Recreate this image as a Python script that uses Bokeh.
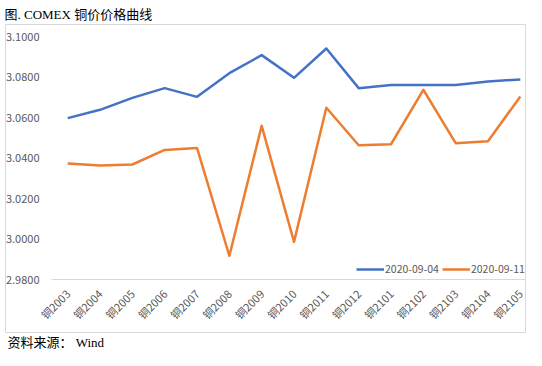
from bokeh.plotting import figure
from bokeh.models import Range1d, Legend, Title, ColumnDataSource
from bokeh.core.properties import value
from bokeh.embed import file_html
from bokeh.resources import INLINE
import math

categories = ["铜2003", "铜2004", "铜2005", "铜2006", "铜2007", "铜2008", "铜2009", "铜2010",
              "铜2011", "铜2012", "铜2101", "铜2102", "铜2103", "铜2104", "铜2105"]
series_0904 = [3.0597, 3.0638, 3.0697, 3.0745, 3.0702, 3.0819, 3.0908, 3.0796,
               3.0941, 3.0745, 3.0760, 3.0760, 3.0760, 3.0778, 3.0788]
series_0911 = [3.0373, 3.0363, 3.0368, 3.0440, 3.0450, 2.9917, 3.0559, 2.9986,
               3.0648, 3.0463, 3.0468, 3.0737, 3.0473, 3.0483, 3.0704]
y_ticks = [2.98, 3.00, 3.02, 3.04, 3.06, 3.08, 3.10]
y_tick_labels = ["2.9800", "3.0000", "3.0200", "3.0400", "3.0600", "3.0800", "3.1000"]
labels = ["2020-09-04", "2020-09-11"]
title_text = "图. COMEX 铜价价格曲线"
source_text = "资料来源： Wind"

SANS = "Noto Sans CJK SC"
SERIF = "Liberation Serif, Noto Sans CJK SC"
GREY = "#595959"

idx = list(range(len(categories)))
n = len(categories)

# the frame is the bordered chart box; ranges add room for the tick labels inside it
p = figure(width=526, height=350, output_backend="svg", toolbar_location=None,
           x_range=Range1d(-1.924, 14.160), y_range=Range1d(2.95383, 3.10593),
           x_axis_location=None, y_axis_location=None,
           min_border_left=5, min_border_right=1, min_border_top=24, min_border_bottom=18)

p.xgrid.visible = False
p.ygrid.visible = False
p.outline_line_color = "#d9d9d9"
p.outline_line_width = 1
p.background_fill_color = "white"
p.border_fill_color = "white"

# category axis line at the bottom of the value range
p.segment(x0=[idx[0] - 0.5], y0=[y_ticks[0]], x1=[idx[-1] + 0.5], y1=[y_ticks[0]],
          line_color="#d9d9d9", line_width=1)

r1 = p.line(idx, series_0904, line_color="#4472C4", line_width=2.5, line_join="round")
r2 = p.line(idx, series_0911, line_color="#ED7D31", line_width=2.5, line_join="round")

# value-axis tick labels
ysrc = ColumnDataSource(dict(x=[idx[0] - 0.5] * len(y_ticks), y=y_ticks, t=y_tick_labels))
p.text(x="x", y="y", text="t", source=ysrc, text_align="right", text_baseline="middle",
       x_offset=-12, text_font=value(SANS), text_font_size="11px", text_color=GREY)

# category-axis tick labels
xsrc = ColumnDataSource(dict(x=idx, y=[y_ticks[0]] * n, t=categories))
p.text(x="x", y="y", text="t", source=xsrc, angle=math.pi / 4, text_align="right",
       text_baseline="middle", x_offset=0, y_offset=12, text_font=value(SANS),
       text_font_size="11px", text_color=GREY)

legend = Legend(items=[(labels[0], [r1]), (labels[1], [r2])], location=(351, 56),
                orientation="horizontal", background_fill_alpha=0, border_line_color=None,
                padding=0, margin=0, spacing=3, glyph_width=28, glyph_height=12,
                label_height=12, label_standoff=1, label_text_font=SANS,
                label_text_font_size="10.5px", label_text_color=GREY)
p.add_layout(legend, "center")

p.title.text = title_text
p.title.text_font = SERIF
p.title.text_font_size = "13px"
p.title.text_font_style = "normal"
p.title.text_color = "#000000"
p.title.align = "left"
p.title.offset = -1
p.title.standoff = 6

footer = Title(text=source_text, text_font=SERIF, text_font_size="13px",
               text_font_style="normal", text_color="#000000", align="left", offset=2,
               standoff=1)
p.add_layout(footer, "below")

open("out.html", "w").write(file_html(p, INLINE))
